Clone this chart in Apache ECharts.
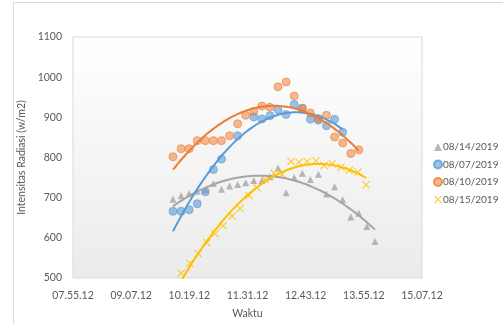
<!DOCTYPE html>
<html>
<head>
<meta charset="utf-8">
<script src="https://cdn.jsdelivr.net/npm/echarts@6/dist/echarts.min.js"></script>
<style>
  html, body { margin: 0; padding: 0; background: #fff; }
  #chart { width: 503px; height: 324px; }
</style>
</head>
<body>
<div id="chart"></div>
<script>
// Solar radiation intensity measured on four days, with 2nd-order trend lines.

// x axis: clock ticks every 1h12m starting at 07:55:12
var axisStart = '07:55:12';
var tickStepMinutes = 72;
var axisSpanMinutes = 432;

var seriesNames = ['08/14/2019', '08/07/2019', '08/10/2019', '08/15/2019'];
var seriesColors = ['#a5a5a5', '#5b9bd5', '#ed7d31', '#ffc000'];

// 08/14/2019
var timesAug14 = ['09:59','10:09','10:19','10:29','10:39','10:49','10:59','11:09','11:19','11:29','11:39','11:49','11:59',
                  '12:09','12:19','12:29','12:39','12:49','12:59','13:09','13:19','13:29','13:39','13:49','13:59','14:09'];
var valuesAug14 = [696, 705, 711, 716, 720, 735, 721, 729, 733, 737, 743, 743, 752,
                   774, 712, 750, 761, 745, 758, 709, 727, 695, 652, 661, 628, 591];

// 08/07/2019
var timesAug07 = ['09:59','10:09','10:19','10:29','10:39','10:49','10:59','11:19','11:39','11:49','11:59',
                  '12:09','12:19','12:29','12:39','12:49','12:59','13:09','13:19','13:29'];
var valuesAug07 = [666, 666, 670, 685, 715, 770, 796, 854, 901, 896, 904,
                   919, 907, 932, 922, 895, 893, 879, 895, 863];

// 08/10/2019
var timesAug10 = ['09:59','10:09','10:19','10:29','10:39','10:49','10:59','11:09','11:19','11:29','11:39','11:49',
                  '11:59','12:09','12:19','12:29','12:39','12:49','12:59','13:09','13:19','13:29','13:39','13:49'];
var valuesAug10 = [802, 822, 822, 842, 842, 842, 842, 854, 884, 905, 915, 928,
                   925, 976, 988, 953, 923, 911, 897, 905, 851, 836, 810, 819];

// 08/15/2019
var timesAug15 = ['10:09','10:20','10:30','10:41','10:51','11:01','11:12','11:22','11:33','11:43','11:53','12:04',
                  '12:14','12:25','12:35','12:45','12:56','13:06','13:16','13:27','13:37','13:48','13:58'];
var valuesAug15 = [512, 537, 561, 588, 610, 630, 654, 673, 705, 725, 745, 761,
                   758, 790, 788, 790, 792, 780, 785, 776, 768, 764, 732];

var yMin = 500, yMax = 1100, yStep = 100;

function toMinutes(hms) {
  var p = hms.split(':').map(Number);
  return p[0] * 60 + p[1] + (p[2] || 0) / 60;
}
var originMin = toMinutes(axisStart);

function offsetOf(hms) { return toMinutes(hms) - originMin; }

function pad2(n) { return (n < 10 ? '0' : '') + n; }
function clockLabel(offset) {
  var totalSec = Math.round((originMin + offset) * 60);
  var h = Math.floor(totalSec / 3600);
  var m = Math.floor((totalSec % 3600) / 60);
  var s = totalSec % 60;
  return pad2(h) + '.' + pad2(m) + '.' + pad2(s);
}

function pairs(times, values) {
  return times.map(function (t, i) { return [offsetOf(t), values[i]]; });
}

// least-squares polynomial of order 2, sampled across the data's time span
function quadTrend(points) {
  var n = points.length, sx = 0, sx2 = 0, sx3 = 0, sx4 = 0, sy = 0, sxy = 0, sx2y = 0;
  points.forEach(function (p) {
    var x = p[0], y = p[1];
    sx += x; sx2 += x * x; sx3 += x * x * x; sx4 += x * x * x * x;
    sy += y; sxy += x * y; sx2y += x * x * y;
  });
  var A = [[n, sx, sx2, sy], [sx, sx2, sx3, sxy], [sx2, sx3, sx4, sx2y]];
  for (var i = 0; i < 3; i++) {
    for (var k = i + 1; k < 3; k++) {
      var f = A[k][i] / A[i][i];
      for (var j = i; j < 4; j++) A[k][j] -= f * A[i][j];
    }
  }
  var c = [0, 0, 0];
  for (var r = 2; r >= 0; r--) {
    var s = A[r][3];
    for (var q = r + 1; q < 3; q++) s -= A[r][q] * c[q];
    c[r] = s / A[r][r];
  }
  var x0 = points[0][0], x1 = points[points.length - 1][0], out = [];
  for (var t = 0; t <= 60; t++) {
    var x = x0 + (x1 - x0) * t / 60;
    out.push([x, c[0] + c[1] * x + c[2] * x * x]);
  }
  return out;
}

var crossPath = 'path://M1,0L5,4L9,0L10,1L6,5L10,9L9,10L5,6L1,10L0,9L4,5L0,1Z';
var symbols = ['triangle', 'circle', 'circle', crossPath];
var symbolSizes = [7, 8, 8, 8];
var fills = ['#a5a5a5', 'rgba(91,155,213,0.75)', 'rgba(237,125,49,0.65)', '#ffc000'];

var dataSets = [
  pairs(timesAug14, valuesAug14),
  pairs(timesAug07, valuesAug07),
  pairs(timesAug10, valuesAug10),
  pairs(timesAug15, valuesAug15)
];

var series = [];
dataSets.forEach(function (pts, i) {
  series.push({
    name: seriesNames[i],
    type: 'scatter',
    data: pts,
    symbol: symbols[i],
    symbolSize: symbolSizes[i],
    itemStyle: {
      color: fills[i],
      borderColor: i === 1 || i === 2 ? seriesColors[i] : fills[i],
      borderWidth: i === 1 || i === 2 ? 0.8 : 0
    },
    z: 2
  });
});
dataSets.forEach(function (pts, i) {
  series.push({
    name: seriesNames[i] + ' trend',
    type: 'line',
    data: quadTrend(pts),
    showSymbol: false,
    smooth: true,
    silent: true,
    lineStyle: { color: seriesColors[i], width: 2 },
    z: 3
  });
});

var font = 'Lato, "Open Sans", sans-serif';
var chart = echarts.init(document.getElementById('chart'), null, { renderer: 'canvas' });
chart.setOption({
  animation: false,
  backgroundColor: '#ffffff',
  color: seriesColors,
  graphic: [
    { type: 'rect', shape: { x: 13.5, y: 2.5, width: 520, height: 340 },
      style: { fill: null, stroke: '#d9d9d9', lineWidth: 1 }, z: -1 }
  ],
  grid: {
    left: 73, right: 81, top: 37, bottom: 41,
    show: true,
    borderColor: '#d9d9d9',
    borderWidth: 1,
    backgroundColor: new echarts.graphic.LinearGradient(0, 0, 0, 1, [
      { offset: 0, color: '#ffffff' },
      { offset: 1, color: '#ebebeb' }
    ])
  },
  legend: {
    orient: 'vertical',
    left: 428,
    top: 137,
    itemWidth: 8,
    itemHeight: 8,
    itemGap: 7.5,
    data: seriesNames,
    textStyle: { color: '#595959', fontSize: 10, fontFamily: font, padding: [0, 0, 0, -4] }
  },
  xAxis: {
    type: 'value',
    min: 0,
    max: axisSpanMinutes,
    interval: tickStepMinutes,
    name: 'Waktu',
    nameLocation: 'middle',
    nameGap: 30,
    nameTextStyle: { color: '#595959', fontSize: 10.5, fontFamily: font },
    axisLine: { show: false },
    axisTick: { show: false },
    splitLine: { show: false },
    axisLabel: {
      color: '#595959', fontSize: 10.5, fontFamily: font, margin: 12,
      formatter: function (v) { return clockLabel(v); }
    }
  },
  yAxis: {
    type: 'value',
    min: yMin,
    max: yMax,
    interval: yStep,
    name: 'Intensitas Radiasi (w/m2)',
    nameLocation: 'middle',
    nameGap: 42,
    nameRotate: 90,
    nameTextStyle: { color: '#595959', fontSize: 10.5, fontFamily: font },
    axisLine: { show: false },
    axisTick: { show: false },
    splitLine: { show: false },
    axisLabel: {
      color: '#595959', fontSize: 10.5, fontFamily: font, margin: 11,
      formatter: function (v) { return String(v); }
    }
  },
  series: series
});
</script>
</body>
</html>
